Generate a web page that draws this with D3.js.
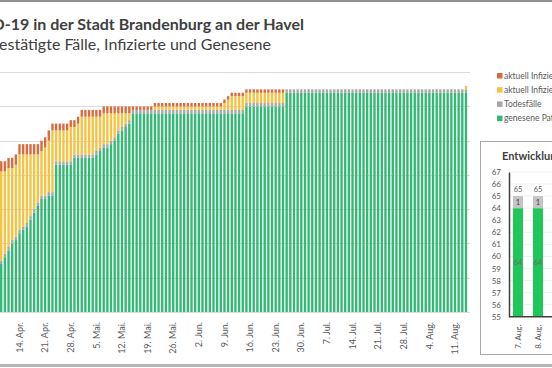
<!DOCTYPE html>
<html>
<head>
<meta charset="utf-8">
<script src="https://cdn.jsdelivr.net/npm/d3@7"></script>
<style>
  body { margin: 0; background: #fff; }
  svg { display: block; font-family: Lato, "Open Sans", sans-serif; }
</style>
</head>
<body>
<div id="chart"></div>
<script>
// Data_____________________________________________
// one value per day, 9. Apr. .. 14. Aug.
const recovered = [
  14, 16, 18, 20, 21, 23, 24, 25, 27, 29, 31, 33, 33, 34, 34,
  43, 43, 43, 43, 43,
  45, 45, 45, 45, 45, 45,
  46, 47, 48, 48, 49, 50, 52, 53, 54, 55,
  58, 58, 58, 58, 58, 58, 58, 58, 58, 58, 58, 58, 58, 58, 58, 58,
  58, 58, 58, 58, 58, 58, 58, 58, 58, 58, 58, 58, 58, 58, 58,
  60, 60, 60, 60, 60, 60, 60, 60, 60, 60, 60,
  64, 64, 64, 64, 64, 64, 64, 64, 64, 64, 64, 64, 64, 64, 64, 64, 64,
  64, 64, 64, 64, 64, 64, 64, 64, 64, 64, 64, 64, 64, 64, 64, 64, 64,
  64, 64, 64, 64, 64, 64, 64, 64, 64, 64, 64, 64, 64, 64, 64, 64
];
const deaths = [
  1, 1, 1, 1, 1, 1, 1, 1, 1, 1, 1, 1, 1, 1, 1, 1, 1, 1, 1, 1, 1, 1, 1, 1, 1, 1, 1, 1, 1, 1, 1, 1,
  1, 1, 1, 1, 1, 1, 1, 1, 1, 1, 1, 1, 1, 1, 1, 1, 1, 1, 1, 1, 1, 1, 1, 1, 1, 1, 1, 1, 1, 1, 1, 1,
  1, 1, 1, 1, 1, 1, 1, 1, 1, 1, 1, 1, 1, 1, 1, 1, 1, 1, 1, 1, 1, 1, 1, 1, 1, 1, 1, 1, 1, 1, 1, 1,
  1, 1, 1, 1, 1, 1, 1, 1, 1, 1, 1, 1, 1, 1, 1, 1, 1, 1, 1, 1, 1, 1, 1, 1, 1, 1, 1, 1, 1, 1, 1, 1
];
const infectedHome = [
  26, 24, 23, 21, 21, 22, 21, 20, 18, 16, 14, 13, 14, 15, 18,
  9, 9, 9, 9, 10, 8, 9, 11, 11, 11, 11, 10, 9, 9, 9, 8, 7, 5, 4, 3, 2,
  0, 0, 0, 0, 0, 0,
  1, 1, 1, 1, 1, 1, 1, 1, 1, 1, 1, 1, 1, 1, 1, 1, 1, 1, 1,
  2, 3, 4, 4, 4, 4,
  3, 3, 3, 3, 3, 3, 3, 3, 3, 3, 3,
  0, 0, 0, 0, 0, 0, 0, 0, 0, 0, 0, 0, 0, 0, 0, 0, 0, 0, 0, 0, 0, 0, 0, 0, 0,
  0, 0, 0, 0, 0, 0, 0, 0, 0, 0, 0, 0, 0, 0, 0, 0, 0, 0, 0, 0, 0, 0, 0, 0,
  1
];
const infectedHospital = [
  3, 3, 3, 3, 3, 3, 3, 3, 3, 3, 3, 3, 3, 3,
  2, 2, 2, 2, 2, 2, 2, 2, 2, 2, 2, 2, 2, 2, 2, 2, 2, 2, 2, 2, 2, 2,
  1, 1, 1, 1, 1, 1, 1, 1, 1, 1, 1, 1, 1, 1, 1, 1, 1, 1, 1, 1, 1,
  1, 1, 1, 1, 1, 1, 1, 1, 1, 1, 1, 1, 1, 1, 1, 1, 1, 1, 1, 1, 1,
  0, 0, 0, 0, 0, 0, 0, 0, 0, 0, 0, 0, 0, 0, 0, 0, 0, 0, 0, 0, 0, 0, 0, 0, 0,
  0, 0, 0, 0, 0, 0, 0, 0, 0, 0, 0, 0, 0, 0, 0, 0, 0, 0, 0, 0, 0, 0, 0, 0, 0
];
const tickDates = ['2020-04-14', '2020-04-21', '2020-04-28', '2020-05-05', '2020-05-12', '2020-05-19',
  '2020-05-26', '2020-06-02', '2020-06-09', '2020-06-16', '2020-06-23', '2020-06-30', '2020-07-07',
  '2020-07-14', '2020-07-21', '2020-07-28', '2020-08-04', '2020-08-11'];
const tickLabels = ['14. Apr.', '21. Apr.', '28. Apr.', '5. Mai.', '12. Mai.', '19. Mai.', '26. Mai.',
  '2. Jun.', '9. Jun.', '16. Jun.', '23. Jun.', '30. Jun.', '7. Jul.', '14. Jul.', '21. Jul.',
  '28. Jul.', '4. Aug.', '11. Aug.'];
const seriesNames = ['genesene Patienten', 'Todesfälle', 'aktuell Infizierte (häuslich)', 'aktuell Infizierte (stationär)'];
const yTicks = [0, 10, 20, 30, 40, 50, 60, 70];

// inset: last days
const insetDays = ['7. Aug.', '8. Aug.', '9. Aug.', '10. Aug.', '11. Aug.', '12. Aug.', '13. Aug.'];
const insetRecovered = [64, 64, 64, 64, 64, 64, 64];
const insetDeaths = [1, 1, 1, 1, 1, 1, 1];
const insetTicks = [55, 56, 57, 58, 59, 60, 61, 62, 63, 64, 65, 66, 67];

// Setup____________________________________________
const width = 552, height = 368;
const colors = ['#33b875', '#a6a6a6', '#f4c343', '#db6a3d'];
const fmt = d3.timeFormat('%Y-%m-%d');
const days = d3.timeDay.range(new Date(2020, 3, 9), new Date(2020, 7, 15)).map(fmt);

const table = days.map((d, i) => ({
  day: d,
  recovered: recovered[i],
  deaths: deaths[i],
  home: infectedHome[i],
  hospital: infectedHospital[i]
}));
const keys = ['recovered', 'deaths', 'home', 'hospital'];
const stacked = d3.stack().keys(keys)(table);

const svg = d3.select('#chart').append('svg')
  .attr('width', width)
  .attr('height', height);

// frame lines of the screenshot
svg.append('line').attr('x1', 0).attr('x2', width).attr('y1', 1).attr('y2', 1)
  .attr('stroke', '#8f8f8f').attr('stroke-width', 2);
svg.append('line').attr('x1', 0).attr('x2', width).attr('y1', 365.5).attr('y2', 365.5)
  .attr('stroke', '#b5b5b5').attr('stroke-width', 3);

// Titles___________________________________________
svg.append('text')
  .attr('x', 304).attr('y', 30)
  .attr('text-anchor', 'end')
  .attr('font-size', 16).attr('font-weight', 'bold')
  .attr('fill', '#404040')
  .text('COVID-19 in der Stadt Brandenburg an der Havel');
svg.append('text')
  .attr('x', 271).attr('y', 50)
  .attr('text-anchor', 'end')
  .attr('font-size', 16)
  .attr('fill', '#404040')
  .text('Bestätigte Fälle, Infizierte und Genesene');

// Main chart_______________________________________
const x = d3.scaleBand().domain(days).range([-0.6, 467.8]).paddingInner(0.35).paddingOuter(0.175);
const y = d3.scaleLinear().domain([0, 70]).range([312, 72.2]);

svg.append('g')
  .selectAll('line')
  .data(yTicks)
  .enter()
  .append('line')
  .attr('x1', 0).attr('x2', 470)
  .attr('y1', d => Math.round(y(d)) + 0.5).attr('y2', d => Math.round(y(d)) + 0.5)
  .attr('stroke', '#dcdcdc');

svg.append('g')
  .selectAll('g')
  .data(stacked)
  .enter()
  .append('g')
  .attr('fill', (d, i) => colors[i])
  .selectAll('rect')
  .data(d => d)
  .enter()
  .append('rect')
  .attr('x', d => x(d.data.day))
  .attr('width', x.bandwidth())
  .attr('y', d => y(d[1]))
  .attr('height', d => y(d[0]) - y(d[1]));

const xAxis = d3.axisBottom(x)
  .tickValues(tickDates)
  .tickSize(0)
  .tickFormat((d, i) => tickLabels[i]);

const gx = svg.append('g')
  .attr('transform', 'translate(0,312)')
  .call(xAxis);
gx.select('.domain').remove();
gx.selectAll('text')
  .attr('transform', 'rotate(-90)')
  .attr('x', -10).attr('y', 0).attr('dy', '0.35em')
  .style('text-anchor', 'end')
  .attr('font-size', 9)
  .attr('font-family', 'Lato, sans-serif')
  .attr('fill', '#595959');

// Legend___________________________________________
const legendOrder = [3, 2, 1, 0];
const legend = svg.append('g').attr('transform', 'translate(497,76)');
legend.selectAll('rect')
  .data(legendOrder)
  .enter()
  .append('rect')
  .attr('x', 0).attr('y', (d, i) => i * 14.2 - 3)
  .attr('width', 5.5).attr('height', 5.5)
  .attr('fill', d => colors[d]);
legend.selectAll('text')
  .data(legendOrder)
  .enter()
  .append('text')
  .attr('x', 7).attr('y', (d, i) => i * 14.2)
  .attr('dy', '0.32em')
  .attr('font-size', 8.5)
  .attr('fill', '#595959')
  .text(d => seriesNames[d]);

// Inset chart______________________________________
svg.append('rect')
  .attr('x', 480.5).attr('y', 141.5)
  .attr('width', 120).attr('height', 213)
  .attr('fill', '#fff')
  .attr('stroke', '#a8a8a8');

svg.append('text')
  .attr('x', 502).attr('y', 160)
  .attr('font-size', 11).attr('font-weight', 'bold')
  .attr('fill', '#404040')
  .text('Entwicklung der letzten 7 Tage');

const ix = d3.scaleBand().domain(insetDays).range([508, 648]).paddingInner(0.5).paddingOuter(0.25);
const iy = d3.scaleLinear().domain([55, 67]).range([316.7, 172]);

svg.append('g')
  .selectAll('line')
  .data(insetTicks.slice(1))
  .enter()
  .append('line')
  .attr('x1', 509).attr('x2', width)
  .attr('y1', d => iy(d)).attr('y2', d => iy(d))
  .attr('stroke', '#f0f0f0');

const yAxisInset = d3.axisLeft(iy).tickValues(insetTicks).tickSize(0).tickPadding(8);
const giy = svg.append('g').attr('transform', 'translate(509,0)').call(yAxisInset);
giy.select('.domain').attr('stroke', '#404040').attr('stroke-width', 1.5);
giy.selectAll('text')
  .attr('font-size', 8)
  .attr('font-family', 'Lato, sans-serif')
  .attr('fill', '#595959');

const insetData = insetDays.map((d, i) => ({ day: d, recovered: insetRecovered[i], deaths: insetDeaths[i] }));

svg.append('g').selectAll('rect')
  .data(insetData)
  .enter()
  .append('rect')
  .attr('x', d => ix(d.day))
  .attr('width', ix.bandwidth())
  .attr('y', d => iy(d.recovered))
  .attr('height', d => iy(55) - iy(d.recovered))
  .attr('fill', '#1dc858');

svg.append('g').selectAll('rect')
  .data(insetData)
  .enter()
  .append('rect')
  .attr('x', d => ix(d.day))
  .attr('width', ix.bandwidth())
  .attr('y', d => iy(d.recovered + d.deaths))
  .attr('height', d => iy(d.recovered) - iy(d.recovered + d.deaths))
  .attr('fill', '#c4c4c4');

const labels = svg.append('g')
  .attr('font-size', 7.5)
  .attr('text-anchor', 'middle');
labels.selectAll('.total')
  .data(insetData)
  .enter()
  .append('text')
  .attr('x', d => ix(d.day) + ix.bandwidth() / 2)
  .attr('y', d => iy(d.recovered + d.deaths) - 4)
  .attr('fill', '#595959')
  .text(d => d.recovered + d.deaths);
labels.selectAll('.death')
  .data(insetData)
  .enter()
  .append('text')
  .attr('x', d => ix(d.day) + ix.bandwidth() / 2)
  .attr('y', d => (iy(d.recovered) + iy(d.recovered + d.deaths)) / 2)
  .attr('dy', '0.35em')
  .attr('fill', '#404040')
  .text(d => d.deaths);
labels.selectAll('.rec')
  .data(insetData)
  .enter()
  .append('text')
  .attr('x', d => ix(d.day) + ix.bandwidth() / 2)
  .attr('y', d => (iy(55) + iy(d.recovered)) / 2)
  .attr('dy', '0.35em')
  .attr('fill', '#6b6b6b')
  .text(d => d.recovered);

svg.append('line')
  .attr('x1', 509).attr('x2', width)
  .attr('y1', iy(55)).attr('y2', iy(55))
  .attr('stroke', '#404040').attr('stroke-width', 1.5);

const ixAxis = d3.axisBottom(ix).tickSize(0);
const gix = svg.append('g').attr('transform', `translate(0,${iy(55)})`).call(ixAxis);
gix.select('.domain').remove();
gix.selectAll('text')
  .attr('transform', 'rotate(-90)')
  .attr('x', -8).attr('y', 0).attr('dy', '0.35em')
  .style('text-anchor', 'end')
  .attr('font-size', 8)
  .attr('font-family', 'Lato, sans-serif')
  .attr('fill', '#595959');
</script>
</body>
</html>
